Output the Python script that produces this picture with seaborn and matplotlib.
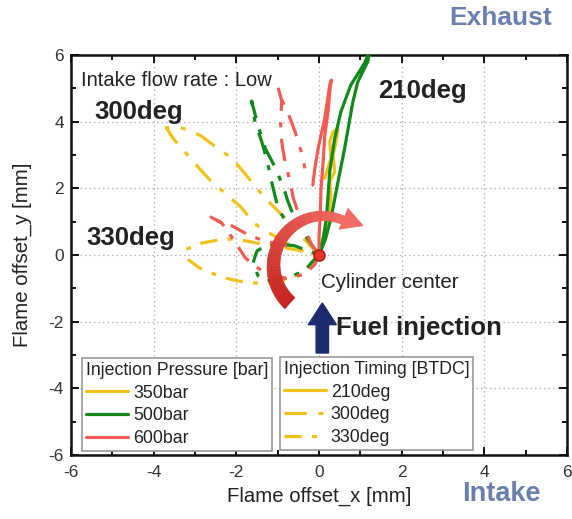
import numpy as np
import pandas as pd
import matplotlib
matplotlib.use("Agg")
import matplotlib.pyplot as plt
from matplotlib.lines import Line2D
from matplotlib.collections import PolyCollection
from matplotlib.patches import Polygon, FancyArrow
from matplotlib.colors import to_rgb
from matplotlib.ticker import MultipleLocator
import seaborn as sns

# ---------------------------------------------------------------- data
PRESSURES = ["350bar", "500bar", "600bar"]
TIMINGS = ["210deg", "300deg", "330deg"]

# 350 bar
X_350_210 = [0, 0.1, 0.2, 0.26, 0.29, 0.26, 0.38, 0.34, 0.43, 0.46, 0.34, 0.26, 0.29, 0.2, 0.14]
Y_350_210 = [0, 0.5, 1.0, 1.4, 1.8, 2.2, 2.5, 3.0, 3.5, 3.78, 3.7, 3.4, 2.9, 2.55, 2.3]
X_350_300 = [0, -0.3, -0.58, -1.0, -1.3, -1.7, -2.1, -2.45, -2.85, -3.1, -3.35, -3.7,
             -3.5, -3.2, -2.9, -2.6, -2.25, -1.9, -1.55, -1.2, -0.85, -0.5, -0.2, 0]
Y_350_300 = [0, 0.4, 0.8, 1.33, 1.7, 2.3, 2.9, 3.2, 3.57, 3.72, 3.82, 3.82,
             3.45, 3.03, 2.6, 2.2, 1.83, 1.45, 0.93, 0.66, 0.4, 0.18, 0.05, 0]
X_350_330 = [0, -0.3, -0.7, -1.23, -1.55, -1.95, -2.3, -2.6, -2.9, -3.15, -3.22,
             -2.83, -2.43, -2.1, -1.75, -1.39, -1.1, -0.6, -0.25, 0]
Y_350_330 = [0, -0.4, -0.72, -0.84, -0.84, -0.78, -0.68, -0.54, -0.38, -0.15, 0.17,
             0.36, 0.45, 0.48, 0.42, 0.33, 0.27, 0.17, 0.07, 0]

# 500 bar
X_500_210 = [0, 0.1, 0.18, 0.26, 0.38, 0.53, 0.77, 1.1, 1.22, 1.18, 0.94, 0.82, 0.62, 0.46, 0.29, 0.15, 0]
Y_500_210 = [0, 0.5, 1.1, 2.5, 3.5, 4.3, 5.1, 5.75, 6.1, 5.8, 5.2, 4.6, 3.2, 2.2, 1.1, 0.45, 0]
X_500_300 = [0, -0.2, -0.45, -0.62, -0.75, -0.85, -1.05, -1.3, -1.48, -1.63,
             -1.55, -1.39, -1.25, -1.15, -1.05, -0.99, -0.85]
Y_500_300 = [0, 0.35, 0.8, 1.2, 1.6, 2.0, 2.6, 3.2, 3.9, 4.62,
             4.0, 3.42, 2.8, 2.22, 1.7, 1.41, 1.1]
X_500_330 = [0, -0.19, -0.34, -0.67, -1.0, -1.3, -1.47, -1.6, -1.55, -1.5, -1.23, -0.99, -0.6, -0.25, 0]
Y_500_330 = [0, -0.24, -0.48, -0.63, -0.72, -0.78, -0.63, -0.28, -0.05, 0.12, 0.33, 0.33, 0.28, 0.12, 0]

# 600 bar
X_600_210 = [0, 0.0, 0.03, 0.05, 0.1, 0.14, 0.22, 0.26, 0.3, 0.26, 0.2, 0.14, 0.05, -0.02, -0.1, -0.15]
Y_600_210 = [0, 0.5, 1.2, 2.0, 2.8, 3.6, 4.3, 4.9, 5.25, 5.1, 4.6, 4.1, 3.6, 3.2, 2.6, 2.1]
X_600_300 = [0, -0.19, -0.34, -0.46, -0.62, -0.72, -0.82, -0.88, -0.92, -0.93, -0.9, -0.98,
             -0.88, -0.75, -0.67, -0.58, -0.43, -0.34]
Y_600_300 = [0, 0.33, 0.8, 1.1, 1.7, 2.3, 2.8, 3.2, 3.6, 4.1, 4.62, 4.98,
             4.6, 4.26, 4.0, 3.7, 3.1, 2.6]
X_600_330 = [0, -0.1, -0.34, -0.8, -1.23, -1.47, -1.78, -2.0, -2.2, -2.36, -2.67,
             -2.36, -2.1, -1.75, -1.5, -1.1, -0.7]
Y_600_330 = [0, -0.28, -0.58, -0.7, -0.58, -0.4, -0.09, 0.33, 0.7, 0.97, 1.17,
             0.97, 0.87, 0.63, 0.5, 0.35, 0.25]

TRACKS = {
    ("350bar", "210deg"): (X_350_210, Y_350_210),
    ("350bar", "300deg"): (X_350_300, Y_350_300),
    ("350bar", "330deg"): (X_350_330, Y_350_330),
    ("500bar", "210deg"): (X_500_210, Y_500_210),
    ("500bar", "300deg"): (X_500_300, Y_500_300),
    ("500bar", "330deg"): (X_500_330, Y_500_330),
    ("600bar", "210deg"): (X_600_210, Y_600_210),
    ("600bar", "300deg"): (X_600_300, Y_600_300),
    ("600bar", "330deg"): (X_600_330, Y_600_330),
}

XTICKS = [-6, -4, -2, 0, 2, 4, 6]
YTICKS = [-6, -4, -2, 0, 2, 4, 6]

# ---------------------------------------------------------------- style
sns.set_theme(style="ticks")
plt.rcParams["font.family"] = ["Liberation Sans", "DejaVu Sans"]
plt.rcParams["text.color"] = "#222222"
plt.rcParams["axes.unicode_minus"] = False

PALETTE = {"350bar": "#f1c21b", "500bar": "#12891a", "600bar": "#f25c55"}
LW = 2.3
DASHES = {"210deg": "", "300deg": (7.0, 3.6, 1.6, 3.6), "330deg": (5.4, 3.2, 1.6, 3.2)}

rows = []
for (p, t), (xs, ys) in TRACKS.items():
    for i, (xv, yv) in enumerate(zip(xs, ys)):
        rows.append({"pressure": p, "timing": t, "step": i, "x": xv, "y": yv})
df = pd.DataFrame(rows)

fig = plt.figure(figsize=(5.72, 5.19), dpi=100)
ax = fig.add_axes([71 / 572, 1 - 455 / 519, 496 / 572, 400 / 519])

sns.lineplot(data=df, x="x", y="y", hue="pressure", style="timing",
             hue_order=PRESSURES, style_order=TIMINGS,
             palette=PALETTE, dashes=DASHES, sort=False, estimator=None,
             lw=LW, legend=False, ax=ax, zorder=3)

# ---------------------------------------------------------------- axes
ax.set_xlim(-6, 6)
ax.set_ylim(-6, 6)
ax.set_xticks(XTICKS)
ax.set_yticks(YTICKS)
ax.xaxis.set_minor_locator(MultipleLocator(1))
ax.yaxis.set_minor_locator(MultipleLocator(1))
ax.tick_params(which="both", direction="in", top=True, right=True,
               width=1.4, color="#111111", labelsize=12.5, labelcolor="#333333")
ax.tick_params(which="major", length=6)
ax.tick_params(which="minor", length=3.5)
ax.tick_params(axis="x", pad=7)
ax.tick_params(axis="y", pad=5)
ax.grid(which="major", linestyle=(0, (1.2, 2.4)), color="#b5b5b5", lw=0.9)
for s in ax.spines.values():
    s.set_linewidth(1.8)
    s.set_color("#111111")
ax.set_xlabel("Flame offset_x [mm]", fontsize=14.7, color="#222222", labelpad=5)
ax.set_ylabel("Flame offset_y [mm]", fontsize=14.7, color="#222222", labelpad=12)

# ---------------------------------------------------------------- swirl arrow
ARC_CENTER = (0.1, -0.33)
ARC_RADII = (1.2, 1.5)
ARC_START, ARC_END = 228.0, 66.0
TAIL_HALF, NECK_HALF = 0.15, 0.085
DARK, LIGHT = np.array(to_rgb("#c41f1a")), np.array(to_rgb("#f26a63"))


def ring(theta, r):
    t = np.deg2rad(theta)
    return (ARC_CENTER[0] + ARC_RADII[0] * r * np.cos(t),
            ARC_CENTER[1] + ARC_RADII[1] * r * np.sin(t))


n = 90
thetas = np.linspace(ARC_START, ARC_END, n + 1)
halves = np.linspace(TAIL_HALF, NECK_HALF, n + 1)
quads, cols = [], []
for i in range(n):
    a0, a1 = thetas[i], thetas[i + 1]
    h0, h1 = halves[i], halves[i + 1]
    quads.append([ring(a0, 1 - h0), ring(a0, 1 + h0), ring(a1, 1 + h1), ring(a1, 1 - h1)])
    f = i / (n - 1)
    cols.append(DARK * (1 - f) + LIGHT * f)
ax.add_collection(PolyCollection(quads, facecolors=cols, edgecolors=cols, linewidths=0.4, zorder=5))
ax.add_patch(Polygon([ring(ARC_END + 0.5, 1.26), ring(45, 1.14), ring(ARC_END + 0.5, 0.8)],
                     closed=True, fc=LIGHT, ec=LIGHT, lw=0.4, zorder=5))

# cylinder centre marker
ax.plot([0], [0], "o", ms=8, mfc="#e8362e", mec="#a8150f", mew=1.0, zorder=6)

# fuel injection arrow
ax.add_patch(FancyArrow(0.08, -2.94, 0, 1.5, width=0.3, head_width=0.68, head_length=0.65,
                        length_includes_head=True, fc="#1d2b6e", ec="#1d2b6e", zorder=6))

# ---------------------------------------------------------------- labels
ax.text(-5.75, 5.22, "Intake flow rate : Low", fontsize=14.5, va="center", ha="left", zorder=7)
ax.text(-5.43, 4.3, "300deg", fontsize=18.5, fontweight="bold", va="center", ha="left", zorder=7)
ax.text(-5.62, 0.5, "330deg", fontsize=18.5, fontweight="bold", va="center", ha="left", zorder=7)
ax.text(1.42, 4.92, "210deg", fontsize=18.5, fontweight="bold", va="center", ha="left", zorder=7)
ax.text(0.05, -0.84, "Cylinder center", fontsize=14.8, va="center", ha="left", zorder=7)
ax.text(0.41, -2.19, "Fuel injection", fontsize=18.5, fontweight="bold", va="center", ha="left", zorder=7)

fig.text(501 / 572, 1 - 18 / 519, "Exhaust", fontsize=19, fontweight="bold",
         color="#6a7fae", ha="center", va="center")
fig.text(501 / 572, 1 - 494 / 519, "Intake", fontsize=19.5, fontweight="bold",
         color="#6a7fae", ha="center", va="center")

# ---------------------------------------------------------------- legends
legend_kw = dict(loc="upper left", fontsize=12.8, title_fontsize=12.8, frameon=True,
                 fancybox=False, edgecolor="#999999", framealpha=1, handlelength=2.4,
                 handletextpad=0.25, borderpad=0.22, labelspacing=0.32,
                 borderaxespad=0, alignment="left")

h1 = [Line2D([], [], color=PALETTE[p], lw=LW) for p in PRESSURES]
leg1 = ax.legend(h1, PRESSURES, title="Injection Pressure [bar]",
                 bbox_to_anchor=(0.022, 0.2425), **legend_kw)
leg1.get_frame().set_linewidth(1.2)
leg1.set_zorder(8)
ax.add_artist(leg1)

h2 = []
for t in TIMINGS:
    ln = Line2D([], [], color=PALETTE["350bar"], lw=LW)
    if DASHES[t]:
        ln.set_dashes(DASHES[t])
    h2.append(ln)
leg2 = ax.legend(h2, TIMINGS, title="Injection Timing [BTDC]",
                 bbox_to_anchor=(0.421, 0.245), **legend_kw)
leg2.get_frame().set_linewidth(1.2)
leg2.set_zorder(8)

fig.savefig("out.png", dpi=100)
